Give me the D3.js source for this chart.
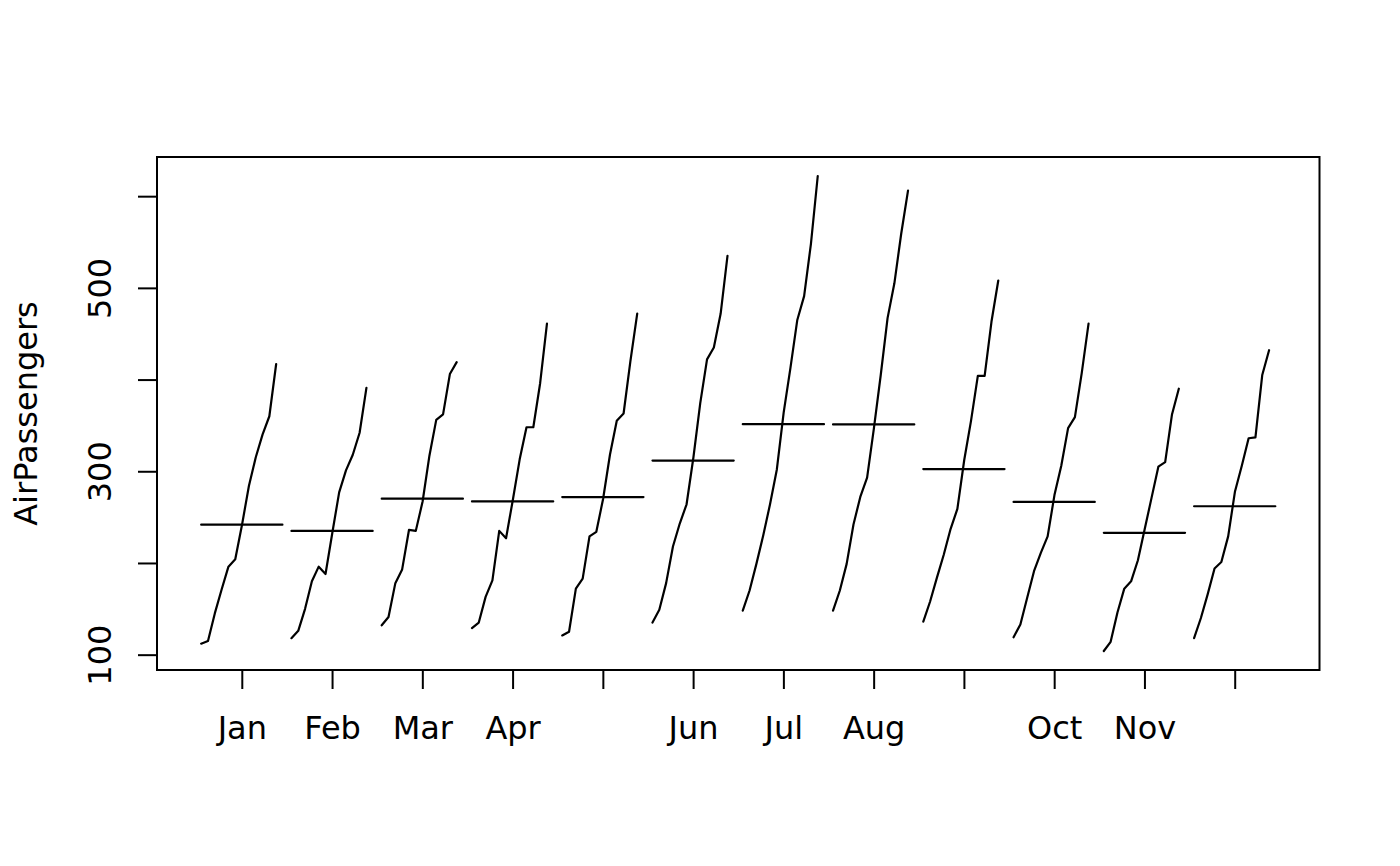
<!DOCTYPE html>
<html><head><meta charset="utf-8">
<script src="https://cdn.jsdelivr.net/npm/d3@7"></script>
<style>body{margin:0;background:#fff}svg{display:block}text{font-family:"DejaVu Sans",sans-serif}</style>
</head><body><svg id="c" width="1400" height="866"></svg>
<script>
const months = ["Jan","Feb","Mar","Apr","May","Jun","Jul","Aug","Sep","Oct","Nov","Dec"];
const monthLabels = ["Jan","Feb","Mar","Apr","","Jun","Jul","Aug","","Oct","Nov",""];
const years = [1949,1950,1951,1952,1953,1954,1955,1956,1957,1958,1959,1960];
const passengers = [
  [112,118,132,129,121,135,148,148,136,119,104,118],
  [115,126,141,135,125,149,170,170,158,133,114,140],
  [145,150,178,163,172,178,199,199,184,162,146,166],
  [171,180,193,181,183,218,230,242,209,191,172,194],
  [196,196,236,235,229,243,264,272,237,211,180,201],
  [204,188,235,227,234,264,302,293,259,229,203,229],
  [242,233,267,269,270,315,364,347,312,274,237,278],
  [284,277,317,313,318,374,413,405,355,306,271,306],
  [315,301,356,348,355,422,465,467,404,347,305,336],
  [340,318,362,348,363,435,491,505,404,359,310,337],
  [360,342,406,396,420,472,548,559,463,407,362,405],
  [417,391,419,461,472,535,622,606,508,461,390,432]
];
const yTicks = [100,200,300,400,500,600];
const yTickLabels = ["100","","300","","500",""];

const svg = d3.select("#c");
const L=157, R=1319.5, T=157, B=670;
const x = d3.scaleLinear().domain([0.0606,12.9394]).range([L,R]);
const y = d3.scaleLinear().domain([83.28,642.72]).range([B,T]);
const FS = 32;

const line = d3.line().x(d=>x(d[0])).y(d=>y(d[1]));
const n = years.length;
const scaleX = 0.9/((n-1)+11/12);
months.forEach((m,i)=>{
  const pts = years.map((yr,j)=>[ (i+1) - 0.45 + j*scaleX, passengers[j][i] ]);
  svg.append("path").attr("d",line(pts)).attr("fill","none").attr("stroke","#000")
    .attr("stroke-width",2.2).attr("stroke-linecap","round").attr("stroke-linejoin","round");
  const mean = d3.mean(passengers, r=>r[i]);
  svg.append("path").attr("d",line([[(i+1)-0.45,mean],[(i+1)+0.45,mean]])).attr("fill","none")
    .attr("stroke","#000").attr("stroke-width",2.2).attr("stroke-linecap","round");
});

svg.append("rect").attr("x",L).attr("y",T).attr("width",R-L).attr("height",B-T).attr("fill","none").attr("stroke","#000").attr("stroke-width",2);

const xa = svg.append("g").attr("transform",`translate(0,${B})`)
  .call(d3.axisBottom(x).tickValues(d3.range(1,13)).tickSize(19).tickFormat((d,i)=>monthLabels[i]));
xa.select(".domain").remove();
xa.selectAll("line").attr("stroke-width",2);
xa.selectAll("text").attr("font-size",FS).attr("font-family","DejaVu Sans").attr("dy",null).attr("y",69).attr("fill","#000");

const ya = svg.append("g").attr("transform",`translate(${L},0)`)
  .call(d3.axisLeft(y).tickValues(yTicks).tickSize(19).tickFormat((d,i)=>yTickLabels[i]));
ya.select(".domain").remove();
ya.selectAll("line").attr("stroke-width",2);
ya.selectAll("text").attr("font-size",FS).attr("font-family","DejaVu Sans")
  .attr("x",null).attr("dy",null).attr("transform","translate(-46,0) rotate(-90)").attr("text-anchor","middle").attr("fill","#000");

svg.append("text").attr("transform",`translate(37,${(T+B)/2}) rotate(-90)`).attr("text-anchor","middle")
  .attr("font-size",FS).attr("fill","#000").text("AirPassengers");
</script></body></html>
